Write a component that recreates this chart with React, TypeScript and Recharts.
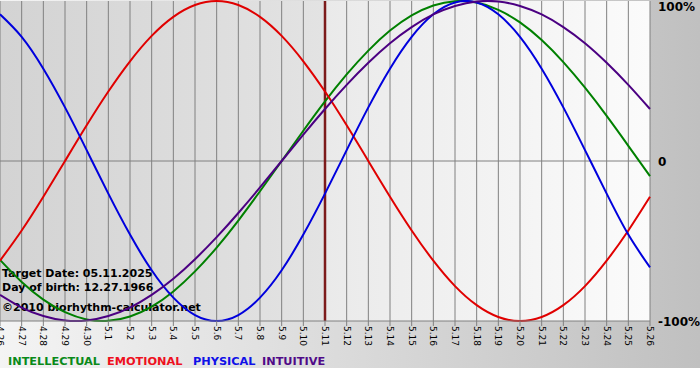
import { LineChart, Line, XAxis, YAxis, CartesianGrid, ReferenceLine } from 'recharts';

const DAYS = [
  '4.26', '4.27', '4.28', '4.29', '4.30',
  '5.1', '5.2', '5.3', '5.4', '5.5', '5.6', '5.7', '5.8', '5.9', '5.10',
  '5.11', '5.12', '5.13', '5.14', '5.15', '5.16', '5.17', '5.18', '5.19', '5.20',
  '5.21', '5.22', '5.23', '5.24', '5.25', '5.26',
];

const INTELLECTUAL = [-61.8, -75.6, -86.6, -94.5, -99.0, -99.9, -97.2, -91.0, -81.5, -69.0, -54.1, -37.2, -18.9, 0, 18.9, 37.2, 54.1, 69.0, 81.5, 91.0, 97.2, 99.9, 99.0, 94.5, 86.6, 75.6, 61.8, 45.8, 28.2, 9.5, -9.5];
const EMOTIONAL = [-62.3, -43.4, -22.3, 0, 22.3, 43.4, 62.3, 78.2, 90.1, 97.5, 100, 97.5, 90.1, 78.2, 62.3, 43.4, 22.3, 0, -22.3, -43.4, -62.3, -78.2, -90.1, -97.5, -100, -97.5, -90.1, -78.2, -62.3, -43.4, -22.3];
const PHYSICAL = [91.7, 77.6, 57.7, 33.5, 6.8, -20.4, -46.0, -68.3, -85.4, -96.3, -100, -96.3, -85.4, -68.3, -46.0, -20.4, 6.8, 33.5, 57.7, 77.6, 91.7, 99.1, 99.1, 91.7, 77.6, 57.7, 33.5, 6.8, -20.4, -46.0, -66.5];
const INTUITIVE = [-83.7, -91.6, -96.9, -99.7, -99.7, -96.9, -91.6, -83.7, -73.6, -61.4, -47.6, -32.5, -16.5, 0, 16.5, 32.5, 47.6, 61.4, 73.6, 83.7, 91.6, 96.9, 99.7, 99.7, 96.9, 91.6, 83.7, 73.6, 61.4, 47.6, 32.5];

const TARGET_DAY = 15; // 5.11
const Y_TICKS = [-100, 0, 100];

const SERIES = [
  { key: 'intellectual', label: 'INTELLECTUAL', color: '#008000', legend: '#0a8a1a', x: 8 },
  { key: 'emotional', label: 'EMOTIONAL', color: '#e00000', legend: '#ee1020', x: 107 },
  { key: 'physical', label: 'PHYSICAL', color: '#0000dd', legend: '#1010e8', x: 193 },
  { key: 'intuitive', label: 'INTUITIVE', color: '#4b0082', legend: '#500a88', x: 262 },
];

const data = DAYS.map((label, i) => ({
  day: i,
  label,
  intellectual: INTELLECTUAL[i],
  emotional: EMOTIONAL[i],
  physical: PHYSICAL[i],
  intuitive: INTUITIVE[i],
}));

const FONT = '"DejaVu Sans", Verdana, sans-serif';

function DayTick({ x, y, payload }: any) {
  return (
    <g transform={`translate(${x},${y})`}>
      <text transform="rotate(90)" x={0} y={0} dy="0.35em" textAnchor="start"
        fontFamily={FONT} fontSize={9} fill="#000">
        {DAYS[payload.value]}
      </text>
    </g>
  );
}

function PctTick({ x, y, payload }: any) {
  const v = payload.value;
  const label = v === 0 ? '0' : `${v}%`;
  const dy = v === 100 ? -2 : 1;
  return (
    <text x={x} y={y + dy} dominantBaseline="central" textAnchor="start"
      fontFamily={FONT} fontSize={12} fontWeight="bold" fill="#000">
      {label}
    </text>
  );
}

export default function App() {
  return (
    <div style={{ position: 'absolute', left: 0, top: 0, width: 700, height: 380, background: '#fff' }}>
      <div style={{ position: 'absolute', left: 0, top: 0, width: 700, height: 368, background: 'linear-gradient(to right, #f4f4f4, #c0c0c0)' }} />
      <div style={{ position: 'absolute', left: 0, top: 0 }}>
        <LineChart width={700} height={380} data={data} margin={{ top: 1, right: 0, bottom: 0, left: 0 }}>
          <defs>
            <linearGradient id="plotShade" x1="0" y1="0" x2="1" y2="0">
              <stop offset="0%" stopColor="#d3d3d3" />
              <stop offset="50%" stopColor="#e3e3e3" />
              <stop offset="50%" stopColor="#eaeaea" />
              <stop offset="100%" stopColor="#fbfbfb" />
            </linearGradient>
          </defs>
          <CartesianGrid horizontal={false} vertical stroke="#808080" fill="url(#plotShade)" fillOpacity={1} />
          <XAxis type="number" dataKey="day" domain={[0, 30]} ticks={DAYS.map((_, i) => i)} interval={0}
            height={59} tickSize={5} tickMargin={0} tick={<DayTick />}
            tickLine={{ stroke: '#808080' }} axisLine={{ stroke: '#808080' }} />
          <YAxis orientation="right" domain={[-100, 100]} ticks={Y_TICKS} width={50}
            axisLine={false} tickLine={false} tickSize={6} tickMargin={2} tick={<PctTick />} />
          <ReferenceLine y={0} stroke="#808080" />
          <ReferenceLine x={TARGET_DAY} stroke="#7d1b1b" strokeWidth={2.5} />
          {SERIES.map(s => (
            <Line key={s.key} type="natural" dataKey={s.key} stroke={s.color} strokeWidth={2}
              dot={false} activeDot={false} isAnimationActive={false} />
          ))}
          <text fontFamily={FONT} fontSize={11} fontWeight="bold" fill="#000">
            <tspan x={2} y={277}>Target Date: 05.11.2025</tspan>
            <tspan x={2} y={291}>Day of birth: 12.27.1966</tspan>
            <tspan x={2} y={311}>©2010 biorhythm-calculator.net</tspan>
          </text>
        </LineChart>
      </div>
      {SERIES.map(s => (
        <div key={s.key} style={{
          position: 'absolute', left: s.x, top: 354, fontFamily: FONT, fontSize: 11.3,
          fontWeight: 'bold', color: s.legend, lineHeight: '16px', whiteSpace: 'nowrap',
        }}>
          {s.label}
        </div>
      ))}
    </div>
  );
}
